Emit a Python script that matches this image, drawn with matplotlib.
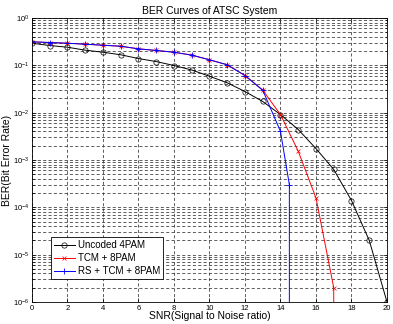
import matplotlib
matplotlib.use("Agg")
import matplotlib.pyplot as plt
import numpy as np
from matplotlib.ticker import LogLocator, NullFormatter

plt.rcParams['font.family'] = ['Liberation Sans', 'DejaVu Sans']

# SNR axis
snr_uncoded = [0, 1, 2, 3, 4, 5, 6, 7, 8, 9, 10, 11, 12, 13, 14, 15, 16, 17, 18, 19, 20]
ber_uncoded = [0.293, 0.262, 0.241, 0.209, 0.189, 0.167, 0.139, 0.120, 0.099, 0.0796,
               0.0588, 0.0427, 0.0279, 0.0172, 0.0091, 0.0044, 0.00174, 6.3e-4,
               1.39e-4, 2.0e-5, 1.0e-6]

snr_tcm = [0, 1, 2, 3, 4, 5, 6, 7, 8, 9, 10, 11, 12, 13, 14, 15, 16, 17, 17]
ber_tcm = [0.314, 0.303, 0.293, 0.279, 0.266, 0.253, 0.223, 0.206, 0.189, 0.164,
           0.131, 0.1025, 0.0608, 0.0298, 0.0091, 1.53e-3, 1.58e-4, 2.0e-6, 1e-12]

snr_rs = [0, 1, 2, 3, 4, 5, 6, 7, 8, 9, 10, 11, 12, 13, 14, 14.5, 14.5]
ber_rs = [0.314, 0.303, 0.293, 0.279, 0.266, 0.253, 0.223, 0.206, 0.189, 0.164,
          0.131, 0.1025, 0.0608, 0.0298, 4.0e-3, 3.0e-4, 1e-12]

fig = plt.figure(figsize=(3.93, 3.24), dpi=100)
ax = fig.add_axes([0.0814, 0.068, 0.9033, 0.8765])

ax.semilogy(snr_uncoded, ber_uncoded, '-o', color='black', lw=0.7, ms=3.8,
            mfc='none', mew=0.5, label='Uncoded 4PAM')
ax.semilogy(snr_tcm, ber_tcm, '-x', color='red', lw=0.7, ms=3,
            mew=0.5, label='TCM + 8PAM')
ax.semilogy(snr_rs, ber_rs, '-+', color='blue', lw=0.7, ms=4,
            mew=0.6, label='RS + TCM + 8PAM')

ax.set_xlim(0, 20)
ax.set_ylim(1e-6, 1)
ax.set_xticks(range(0, 21, 2))
ax.yaxis.set_major_locator(LogLocator(base=10, numticks=10))
ax.yaxis.set_minor_locator(LogLocator(base=10, subs=np.arange(2, 10), numticks=20))
ax.yaxis.set_minor_formatter(NullFormatter())

# dashed grid, minor too on y
ax.grid(True, which='major', axis='both', color='0.2', ls=(0, (4, 3)), lw=0.55)
ax.grid(True, which='minor', axis='y', color='0.2', ls=(0, (4, 3)), lw=0.55)

ax.tick_params(which='both', direction='in', top=True, right=True, labelsize=5.5,
               length=3, width=0.5, pad=2)
ax.tick_params(which='minor', length=1.8)
for s in ax.spines.values():
    s.set_linewidth(0.6)

ax.set_title('BER Curves of ATSC System', fontsize=7.5, pad=3)
ax.set_xlabel('SNR(Signal to Noise ratio)', fontsize=7.5)
ax.set_ylabel('BER(Bit Error Rate)', fontsize=7.5)
ax.xaxis.set_label_coords(0.5, -0.033)
ax.yaxis.set_label_coords(-0.055, 0.5)

leg = ax.legend(loc='lower left', bbox_to_anchor=(0.053, 0.081), fontsize=7,
                fancybox=False, edgecolor='black', framealpha=1,
                borderpad=0.3, handlelength=2.2, labelspacing=0.3,
                handletextpad=0.3, borderaxespad=0)
leg.get_frame().set_linewidth(0.6)

fig.savefig('out.png', dpi=100)
